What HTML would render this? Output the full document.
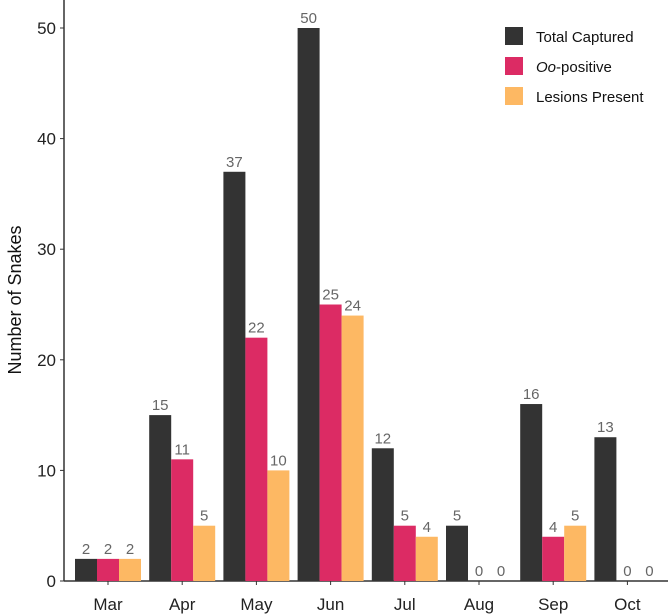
<!DOCTYPE html>
<html><head><meta charset="utf-8"><style>
body{margin:0;background:#fff;overflow:hidden;}
svg{font-family:"Liberation Sans",Arial,sans-serif;display:block;}
</style></head><body>
<svg id="c" width="668" height="616"></svg>
<script>
const categories=["Mar","Apr","May","Jun","Jul","Aug","Sep","Oct"];
const totalCaptured=[2,15,37,50,12,5,16,13];
const ooPositive=[2,11,22,25,5,0,4,0];
const lesionsPresent=[2,5,10,24,4,0,5,0];
const yTicks=[0,10,20,30,40,50];
const seriesNames=["Total Captured","Oo-positive","Lesions Present"];
const colors=["#333333","#dc2b64","#fdb863"];
const NS="http://www.w3.org/2000/svg";
const svg=document.getElementById('c');
function el(t,a,p){const e=document.createElementNS(NS,t);for(const k in a)e.setAttribute(k,a[k]);(p||svg).appendChild(e);return e;}
const y0=581,pxPerUnit=11.06;
function y(v){return y0-v*pxPerUnit;}
function xc(i){return 108+i*74.2;}
const bw=22;
let ax=el('line',{x1:64,y1:0,x2:64,y2:y0,stroke:'#333','stroke-width':1.5});

let axx=el('line',{x1:64,y1:y0,x2:668,y2:y0,stroke:'#333','stroke-width':1.5});

yTicks.forEach(t=>{
  const tk=el('line',{x1:60,x2:64,y1:y(t),y2:y(t),stroke:'#333'});
  
  const tx=el('text',{x:56,y:y(t)+6,'text-anchor':'end','font-size':17,fill:'#222'});
  tx.textContent=t;
  
});
const yt=el('text',{x:0,y:0,transform:'translate(21,300) rotate(-90)','text-anchor':'middle','font-size':18,fill:'#111'});
yt.textContent='Number of Snakes';

const series=[totalCaptured,ooPositive,lesionsPresent];
categories.forEach((c,i)=>{
  const tk=el('line',{x1:xc(i),x2:xc(i),y1:y0,y2:y0+4,stroke:'#333'});
  
  const tx=el('text',{x:xc(i),y:610,'text-anchor':'middle','font-size':17,fill:'#222'});
  tx.textContent=c;
  
  series.forEach((s,j)=>{
    const bx=xc(i)-bw*1.5+j*bw;
    const r=el('rect',{x:bx,y:y(s[i]),width:bw,height:y0-y(s[i]),fill:colors[j]});
    
    
    const lb=el('text',{x:bx+bw/2,y:y(s[i])-5,'text-anchor':'middle','font-size':15,fill:'#666'});
    lb.textContent=s[i];
    
  });
});
seriesNames.forEach((n,j)=>{
  const g=el('g',{});
  
  el('rect',{x:505,y:27+j*30,width:18,height:18,fill:colors[j]},g);
  const t=el('text',{x:536,y:42+j*30,'font-size':15,fill:'#111'},g);
  if(j===1){const it=el('tspan',{'font-style':'italic'},t);it.textContent='Oo';const r=el('tspan',{},t);r.textContent='-positive';}
  else t.textContent=n;
});
</script>
</body></html>
